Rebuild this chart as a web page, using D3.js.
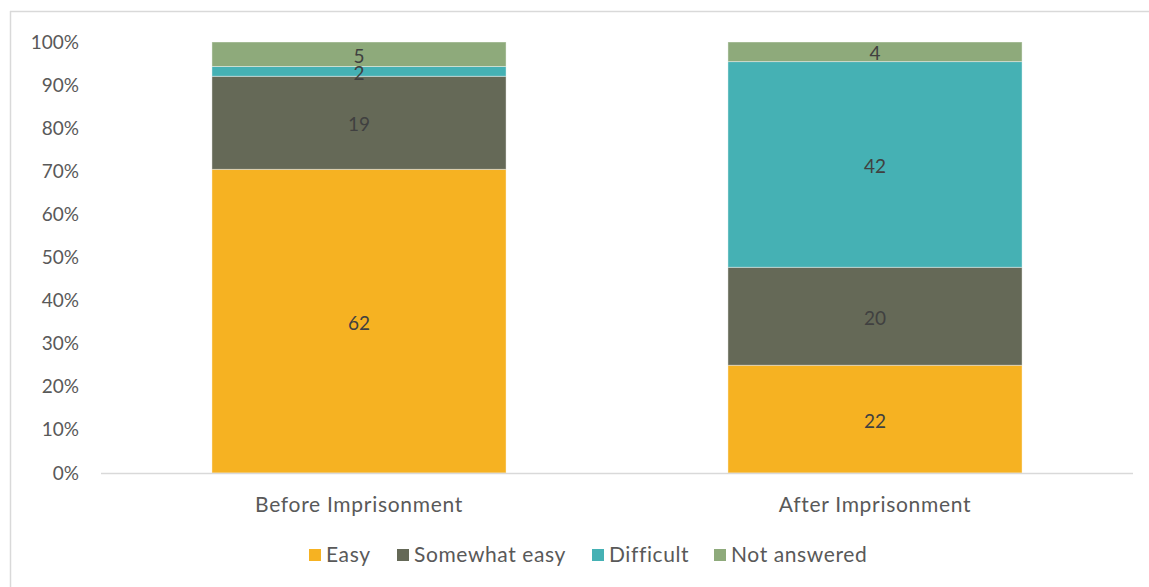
<!DOCTYPE html>
<html><head><meta charset="utf-8">
<script src="https://cdn.jsdelivr.net/npm/d3@7"></script>
<style>
html,body{margin:0;padding:0;background:#fff;}
text{font-family:"Lato","Open Sans",sans-serif;}
</style></head>
<body>
<svg id="c" width="1149" height="587"></svg>
<script>
const categories = ["Before Imprisonment", "After Imprisonment"];
const seriesNames = ["Easy", "Somewhat easy", "Difficult", "Not answered"];
const easy = [62, 22];
const somewhatEasy = [19, 20];
const difficult = [2, 42];
const notAnswered = [5, 4];
const colors = ["#F6B222", "#656957", "#45B1B4", "#8EAA7B"];
const yTicks = [0, 0.1, 0.2, 0.3, 0.4, 0.5, 0.6, 0.7, 0.8, 0.9, 1.0];

const seriesVals = [easy, somewhatEasy, difficult, notAnswered];
const rows = categories.map((c, i) => {
  const r = {cat: c};
  let tot = 0;
  seriesNames.forEach((s, j) => { r[s] = seriesVals[j][i]; tot += seriesVals[j][i]; });
  seriesNames.forEach(s => { r[s + "_p"] = r[s] / tot; });
  return r;
});

const svg = d3.select("#c");
// frame
svg.append("line").attr("x1", 10.5).attr("x2", 10.5).attr("y1", 11).attr("y2", 587).attr("stroke", "#d9d9d9").attr("stroke-width", 1.5);
svg.append("line").attr("x1", 10).attr("x2", 1149).attr("y1", 11.5).attr("y2", 11.5).attr("stroke", "#d9d9d9").attr("stroke-width", 1.5);

const x = d3.scaleBand().domain(categories).range([101, 1133]).paddingInner(0.43).paddingOuter(0.215);
const y = d3.scaleLinear().domain([0, 1]).range([473, 42]);

const stack = d3.stack().keys(seriesNames.map(s => s + "_p"));
const stacked = stack(rows);

const g = svg.append("g");
stacked.forEach((layer, j) => {
  g.selectAll(null).data(layer).enter().append("rect")
    .attr("x", d => x(d.data.cat))
    .attr("width", x.bandwidth())
    .attr("y", d => y(d[1]))
    .attr("height", d => y(d[0]) - y(d[1]))
    .attr("fill", colors[j])
    .attr("stroke", "#ffffff").attr("stroke-opacity", 0.4).attr("stroke-width", 1);
});
// labels
stacked.forEach((layer, j) => {
  g.selectAll(null).data(layer).enter().append("text")
    .attr("x", d => x(d.data.cat) + x.bandwidth() / 2)
    .attr("y", d => (y(d[0]) + y(d[1])) / 2 + 2)
    .attr("dy", "0.35em")
    .attr("text-anchor", "middle")
    .attr("font-size", 19)
    .attr("fill", "#404040")
    .text(d => d.data[seriesNames[j]]);
});

// y axis
const ya = svg.append("g").attr("transform", "translate(101,0)")
  .call(d3.axisLeft(y).tickValues(yTicks).tickFormat(d3.format(".0%")).tickSize(0).tickPadding(22));
ya.select(".domain").remove();
ya.selectAll("text").attr("font-size", 19).attr("fill", "#595959").style("font-family", "Lato, 'Open Sans', sans-serif");

// x axis
const xa = svg.append("g").attr("transform", "translate(0,473)")
  .call(d3.axisBottom(x).tickSize(0).tickPadding(24));
xa.select(".domain").attr("stroke", "#d9d9d9").attr("stroke-width", 1.5).attr("d", "M101,0.5H1133");
xa.selectAll("text").attr("font-size", 21).attr("letter-spacing", 0.7).attr("fill", "#595959").style("font-family", "Lato, 'Open Sans', sans-serif");

// legend
const legX = [309, 397, 592, 714];
const leg = svg.append("g");
seriesNames.forEach((s, j) => {
  leg.append("rect").attr("x", legX[j]).attr("y", 549).attr("width", 12).attr("height", 12).attr("fill", colors[j]);
  leg.append("text").attr("x", legX[j] + 17).attr("y", 555).attr("dy", "0.35em")
    .attr("font-size", 21).attr("letter-spacing", 0.6).attr("fill", "#595959").text(s);
});
</script>
</body></html>
